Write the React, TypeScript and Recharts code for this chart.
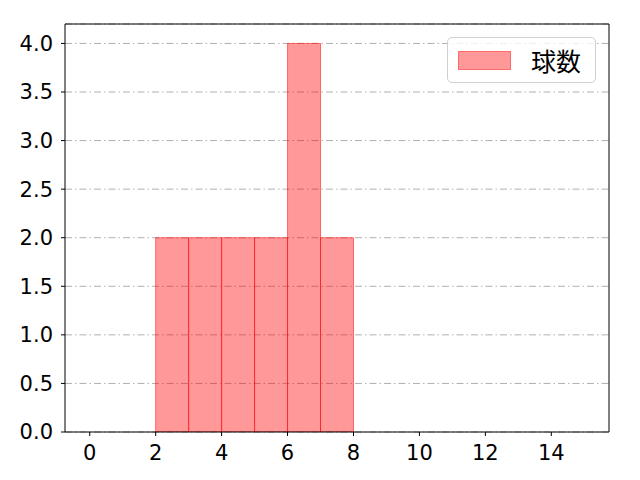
import React from "react";
import {
  ComposedChart,
  Bar,
  XAxis,
  YAxis,
  CartesianGrid,
  ReferenceLine,
  Legend,
} from "recharts";

// histogram bins (width 1) and pitch counts in each
const binStarts = [0, 1, 2, 3, 4, 5, 6, 7, 8, 9, 10, 11, 12, 13, 14];
const counts = [0, 0, 2, 2, 2, 2, 4, 2, 0, 0, 0, 0, 0, 0, 0];
const xTicks = [0, 2, 4, 6, 8, 10, 12, 14];
const yTicks = [0, 0.5, 1, 1.5, 2, 2.5, 3, 3.5, 4];
const seriesName = "球数";

const data = binStarts.map((s, i) => ({ x: s + 0.5, count: counts[i] }));

const tickStyle = { fontFamily: "DejaVu Sans", fontSize: 21, fill: "#000" };

const LegendBox = () => (
  <div
    style={{
      width: 149,
      height: 46,
      border: "1px solid #d0d0d0",
      borderRadius: 5,
      background: "rgba(255,255,255,0.8)",
      display: "flex",
      alignItems: "center",
      boxSizing: "border-box",
    }}
  >
    <div
      style={{
        marginLeft: 10,
        width: 53,
        height: 19,
        background: "rgba(255,0,0,0.4)",
        border: "1px solid rgba(255,0,0,0.3)",
        boxSizing: "border-box",
      }}
    />
    <span
      style={{
        marginLeft: 20,
        fontFamily: "Noto Sans CJK JP",
        fontSize: 25,
        color: "#000",
      }}
    >
      {seriesName}
    </span>
  </div>
);

const App: React.FC = () => {
  return (
    <div style={{ position: "fixed", left: 0, top: 0, background: "#fff" }}>
      <ComposedChart
        width={640}
        height={480}
        data={data}
        margin={{ top: 24, right: 31, bottom: 0, left: 0 }}
        barCategoryGap={0}
        barGap={0}
      >
        <CartesianGrid
          horizontal
          vertical={false}
          stroke="#b0b0b0"
          strokeDasharray="7 3 1.5 3"
        />
        <XAxis
          dataKey="x"
          type="number"
          domain={[-0.75, 15.75]}
          ticks={xTicks}
          allowDataOverflow
          height={48}
          stroke="#000"
          tick={tickStyle}
          tickSize={4}
          tickMargin={9}
        />
        <YAxis
          type="number"
          domain={[0, 4.2]}
          ticks={yTicks}
          allowDataOverflow
          width={65}
          stroke="#000"
          tick={tickStyle}
          tickSize={4}
          tickMargin={8}
          tickFormatter={(v: number) => v.toFixed(1)}
        />
        <Bar
          dataKey="count"
          name={seriesName}
          fill="red"
          fillOpacity={0.4}
          stroke="red"
          strokeOpacity={0.5}
          strokeWidth={1}
          isAnimationActive={false}
        />
        <ReferenceLine y={4.2} stroke="#000" />
        <ReferenceLine x={15.75} stroke="#000" />
        <Legend
          layout="horizontal"
          verticalAlign="middle"
          align="center"
          content={() => <LegendBox />}
          wrapperStyle={{ top: 37, left: 447, width: 149 }}
        />
      </ComposedChart>
    </div>
  );
};

export default App;
